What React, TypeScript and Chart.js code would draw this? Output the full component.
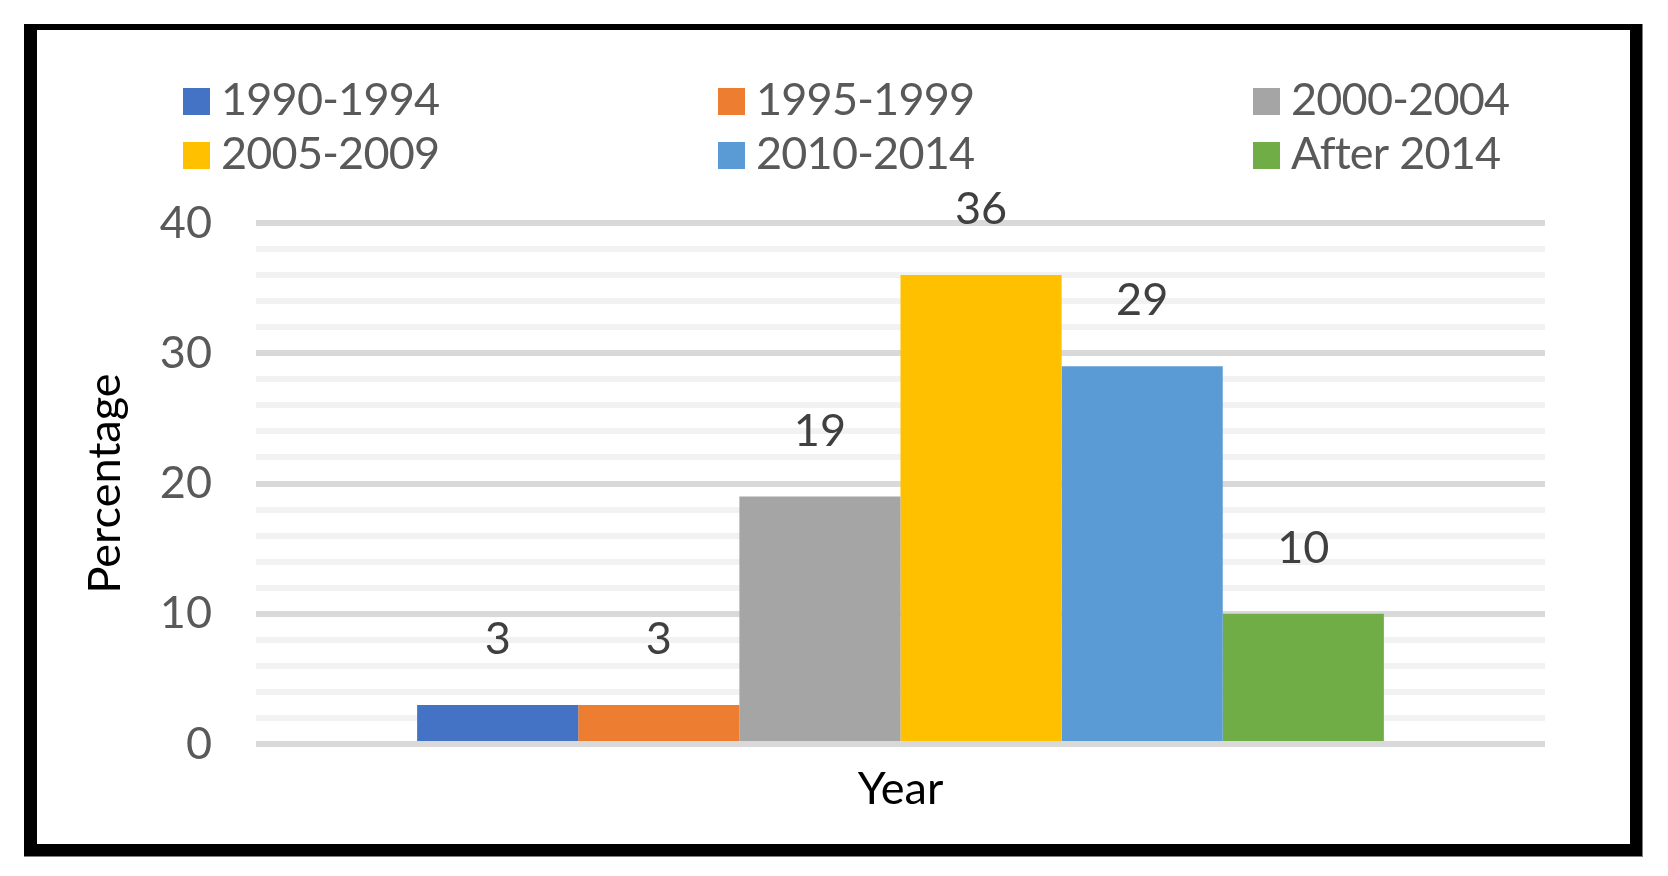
import React, { useEffect, useRef } from 'react';
import { Chart, registerables } from 'chart.js';

Chart.register(...registerables);

const categories = [''];
const seriesLabels = ['1990-1994', '1995-1999', '2000-2004', '2005-2009', '2010-2014', 'After 2014'];
const seriesValues = [3, 3, 19, 36, 29, 10];
const seriesColors = ['#4472C4', '#ED7D31', '#A5A5A5', '#FFC000', '#5B9BD5', '#70AD47'];
const yMajorTicks = [0, 10, 20, 30, 40];
const yGridTicks = [0, 2, 4, 6, 8, 10, 12, 14, 16, 18, 20, 22, 24, 26, 28, 30, 32, 34, 36, 38, 40];
const yTitle = 'Percentage';
const xTitle = 'Year';

const FONT = 'Lato';
const FONT_SIZE = 45;

export default function App() {
  const ref = useRef<HTMLCanvasElement>(null);

  useEffect(() => {
    if (!ref.current) return;

    const framePlugin = {
      id: 'frame',
      beforeDraw(chart: any) {
        const c = chart.ctx;
        c.save();
        c.fillStyle = '#ffffff';
        c.fillRect(0, 0, chart.width, chart.height);
        c.fillStyle = '#7f7f7f';
        c.fillRect(24, 24, 1619, 833);
        c.fillStyle = '#000000';
        c.fillRect(24, 24, 1618, 832);
        c.fillStyle = '#ffffff';
        c.fillRect(37, 30, 1593, 814);
        c.restore();
      },
    };

    const legendPlugin = {
      id: 'gridLegend',
      afterDraw(chart: any) {
        const c = chart.ctx;
        c.save();
        c.font = `${FONT_SIZE}px ${FONT}`;
        try { (c as any).letterSpacing = '-0.8px'; } catch (e) {}
        c.textBaseline = 'alphabetic';
        c.textAlign = 'left';
        const colX = [183, 718, 1253];
        const rowBase = [115, 169];
        chart.data.datasets.forEach((ds: any, i: number) => {
          const col = i % 3;
          const row = Math.floor(i / 3);
          const x = colX[col];
          const base = rowBase[row];
          c.fillStyle = ds.backgroundColor;
          c.fillRect(x, base - 27, 27, 27);
          c.fillStyle = '#595959';
          c.fillText(ds.label, x + 38, base);
        });
        c.restore();
      },
    };

    const labelPlugin = {
      id: 'barLabels',
      afterDatasetsDraw(chart: any) {
        const c = chart.ctx;
        c.save();
        c.font = `${FONT_SIZE}px ${FONT}`;
        c.fillStyle = '#404040';
        c.textAlign = 'center';
        c.textBaseline = 'alphabetic';
        chart.data.datasets.forEach((ds: any, i: number) => {
          const meta = chart.getDatasetMeta(i);
          meta.data.forEach((el: any, j: number) => {
            c.fillText(String(ds.data[j]), el.x, el.y - 51);
          });
        });
        c.restore();
      },
    };

    const chart = new Chart(ref.current, {
      type: 'bar',
      data: {
        labels: categories,
        datasets: seriesLabels.map((label, i) => ({
          label,
          data: [seriesValues[i]],
          backgroundColor: seriesColors[i],
          borderWidth: 0,
          categoryPercentage: 0.75,
          barPercentage: 1.0,
        })),
      },
      options: {
        responsive: false,
        animation: false,
        devicePixelRatio: 1,
        layout: { padding: { left: 78, top: 223, right: 123, bottom: 60 } },
        plugins: {
          legend: { display: false },
          tooltip: { enabled: false },
          title: { display: false },
        },
        scales: {
          x: {
            type: 'category',
            grid: { display: false, drawTicks: false },
            border: { display: false },
            ticks: { display: false },
            title: {
              display: true,
              text: xTitle,
              color: '#000000',
              font: { family: FONT, size: FONT_SIZE },
              padding: 0,
            },
            afterFit(scale: any) {
              scale.height = 72;
            },
          },
          y: {
            type: 'linear',
            min: 0,
            max: 40,
            afterBuildTicks(scale: any) {
              scale.ticks = yGridTicks.map((v) => ({ value: v }));
            },
            ticks: {
              autoSkip: false,
              padding: 44,
              color: '#595959',
              font: { family: FONT, size: FONT_SIZE },
              callback: (v: any) => (yMajorTicks.includes(Number(v)) ? String(v) : ''),
            },
            grid: {
              drawTicks: false,
              lineWidth: 6,
              color: (ctx: any) =>
                ctx.tick && yMajorTicks.includes(ctx.tick.value) ? '#d9d9d9' : '#f2f2f2',
            },
            border: { display: false },
            title: {
              display: true,
              text: yTitle,
              color: '#000000',
              font: { family: FONT, size: FONT_SIZE },
              padding: 0,
            },
            afterFit(scale: any) {
              scale.width = 178;
            },
          },
        },
      },
      plugins: [framePlugin, labelPlugin, legendPlugin],
    } as any);

    return () => chart.destroy();
  }, []);

  return (
    <div style={{ position: 'fixed', left: 0, top: 0, width: 1668, height: 876, background: '#fff' }}>
      <canvas ref={ref} width={1668} height={876} style={{ display: 'block' }} />
    </div>
  );
}
